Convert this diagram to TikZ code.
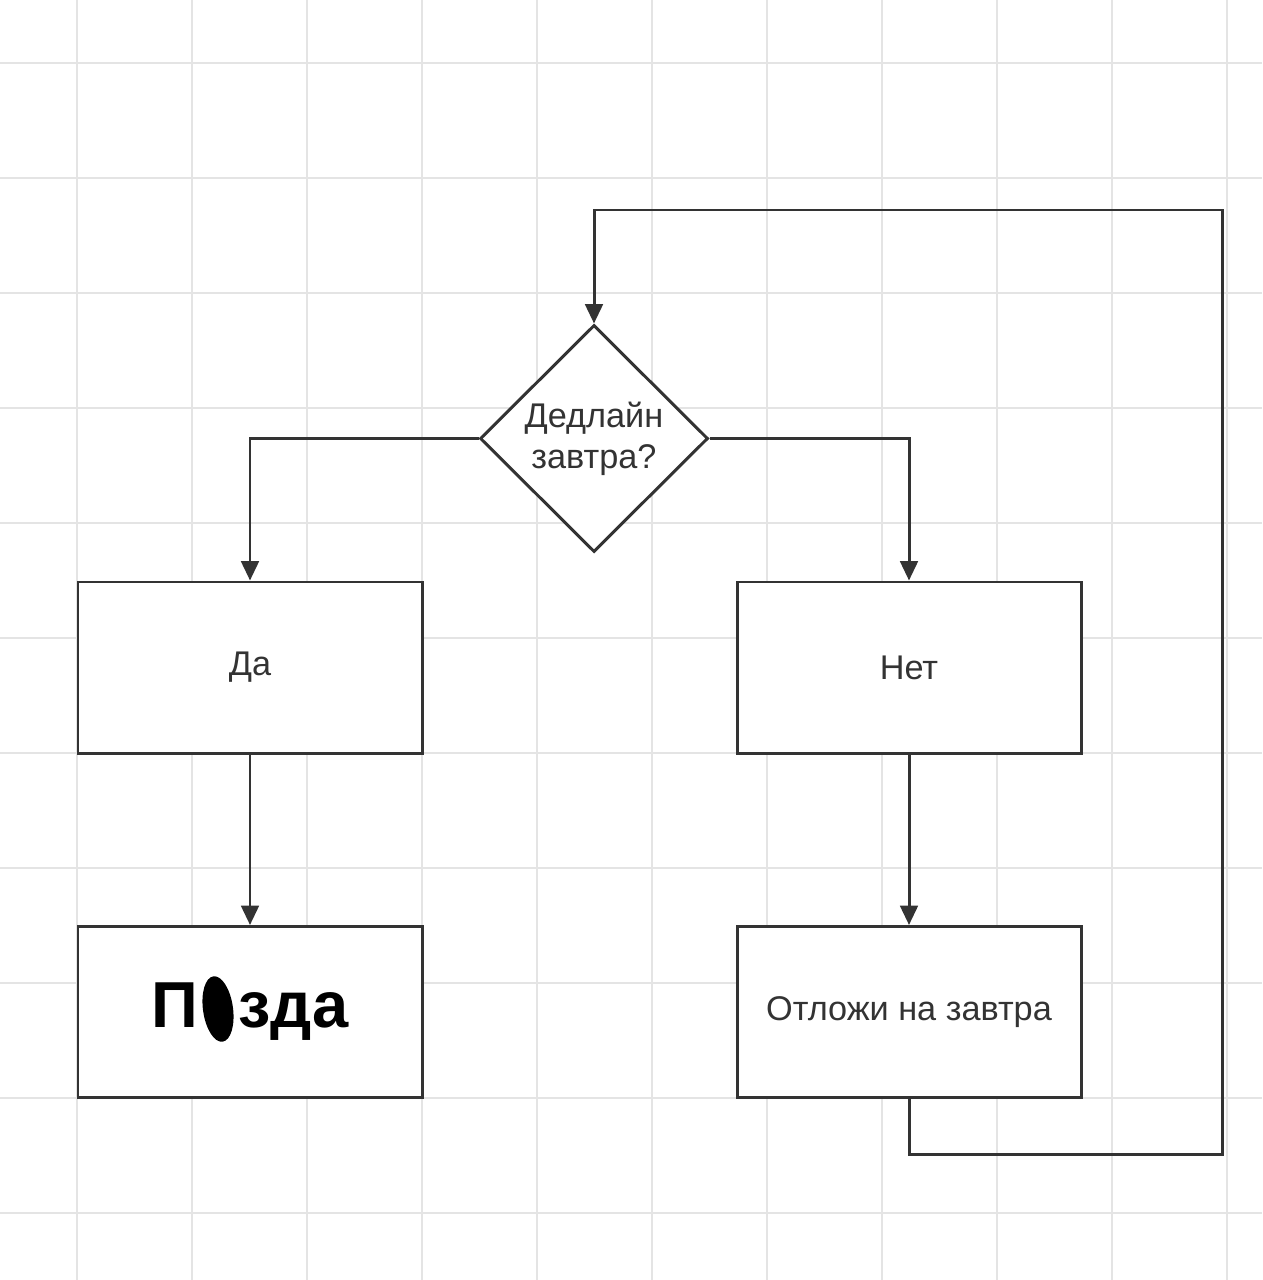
\documentclass[tikz,border=0pt]{standalone}
\usepackage{fontspec}
\setmainfont{Liberation Sans}
\usetikzlibrary{arrows.meta,shapes.geometric}
\definecolor{ink}{HTML}{333333}
\definecolor{gridc}{HTML}{E4E4E4}
\newlength{\pxu}
\setlength{\pxu}{0.02cm}
\tikzset{
  box/.style={draw=ink, line width=1.7pt, fill=white, minimum width=344\pxu, minimum height=171\pxu, inner sep=0pt, text=ink, font=\fontsize{19.5}{23}\selectfont},
  decision/.style={diamond, draw=ink, line width=1.7pt, fill=white, minimum width=228\pxu, minimum height=227\pxu, inner sep=0pt, text=ink, align=center, font=\fontsize{19.5}{23.5}\selectfont},
  conn/.style={draw=ink, line width=1.7pt, -{Triangle[length=11pt,width=10pt]}},
  gridline/.style={draw=gridc, line width=1.6pt},
}
\begin{document}
\begin{tikzpicture}[x=0.02cm,y=-0.02cm]
\useasboundingbox[fill=white] (0,0) rectangle (1262,1280);
% grid
\foreach \gx in {77,192,...,1262} \draw[gridline] (\gx,0) -- (\gx,1280);
\foreach \gy in {63,178,...,1280} \draw[gridline] (0,\gy) -- (1262,\gy);
% nodes
\node[decision] (dec) at (594,438.5) {Дедлайн\\завтра?};
\node[box] (da) at (250,667.5) {Да};
\node[box] (net) at (909,667.5) {Нет};
\node[box, font=\bfseries\fontsize{37}{40}\selectfont, text=black] (pz) at (250,1012) {П\phantom{и}зда};
\node[box] (ot) at (909,1012) {Отложи на завтра};
\fill[black, rotate around={8:(218,1009)}] (218,1009) ellipse (15 and 33);
% connectors
\draw[conn] (dec.west) -| (da.north);
\draw[conn] (dec.east) -| (net.north);
\draw[conn] (da.south) -- (pz.north);
\draw[conn] (net.south) -- (ot.north);
\coordinate (c1) at (1222,1154);
\coordinate (c2) at (1222,210);
\draw[conn] (ot.south) |- (c1) -- (c2) -| (dec.north);
\end{tikzpicture}
\end{document}
